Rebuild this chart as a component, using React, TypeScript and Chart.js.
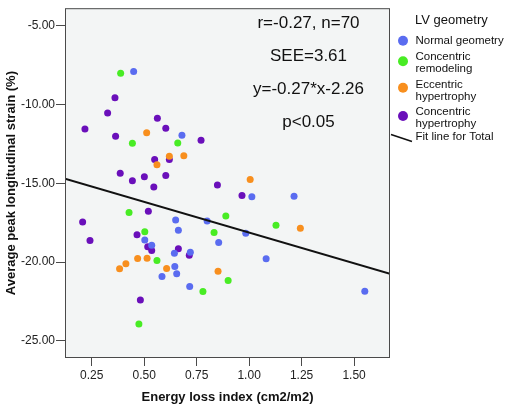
import { useEffect, useRef } from "react";
import { Chart, registerables } from "chart.js";

Chart.register(...registerables);

// ---- data ----
const xTicks = [0.25, 0.5, 0.75, 1.0, 1.25, 1.5];
const yTicks = [-25, -20, -15, -10, -5];
const xRange = [0.123, 1.671];
const yRange = [-26.08, -3.9];

const normalGeometry = [
  [0.45, -7.91], [0.68, -11.95], [1.013, -15.85], [1.214, -15.83], [0.65, -17.33],
  [0.8, -17.39], [0.984, -18.17], [0.855, -18.76], [0.663, -17.98], [0.503, -18.59],
  [0.536, -18.93], [0.644, -19.44], [0.72, -19.37], [0.646, -20.28], [0.655, -20.74],
  [0.585, -20.91], [0.717, -21.54], [1.081, -19.79], [1.551, -21.84],
];
const concentricRemodeling = [
  [0.388, -8.03], [0.444, -12.46], [0.66, -12.44], [0.428, -16.86], [0.889, -17.07],
  [0.833, -18.13], [0.503, -18.07], [0.561, -19.9], [0.9, -21.16], [0.78, -21.86],
  [0.475, -23.93], [1.128, -17.67],
];
const eccentricHypertrophy = [
  [0.512, -11.79], [0.62, -13.28], [0.689, -13.26], [0.561, -13.83], [1.005, -14.76],
  [1.244, -17.86], [0.469, -19.77], [0.514, -19.75], [0.413, -20.11], [0.383, -20.42],
  [0.607, -20.4], [0.852, -20.58],
];
const concentricHypertrophy = [
  [0.361, -9.58], [0.326, -10.54], [0.218, -11.56], [0.364, -12.02], [0.563, -10.88],
  [0.603, -11.51], [0.771, -12.27], [0.55, -13.5], [0.62, -13.5], [0.386, -14.36],
  [0.444, -14.84], [0.501, -14.59], [0.603, -14.51], [0.546, -15.24], [0.849, -15.11],
  [0.966, -15.77], [0.52, -16.78], [0.207, -17.45], [0.242, -18.63], [0.466, -18.27],
  [0.517, -19.03], [0.536, -19.27], [0.663, -19.16], [0.715, -19.56], [0.482, -22.41],
];
const fitLine = [[0.123, -14.71], [1.671, -20.74]];

const seriesLabels = [
  ["Normal geometry"],
  ["Concentric", "remodeling"],
  ["Eccentric", "hypertrophy"],
  ["Concentric", "hypertrophy"],
];
const seriesColors = ["#5a6cf0", "#48ec24", "#f88f1e", "#6a0fba"];
const legendTitle = "LV geometry";
const fitLabel = "Fit line for Total";
const statsText = ["r=-0.27, n=70", "SEE=3.61", "y=-0.27*x-2.26", "p<0.05"];
const xTitle = "Energy loss index (cm2/m2)";
const yTitle = "Average peak longitudinal strain (%)";

const FONT = "'Liberation Sans', Arial, Helvetica, sans-serif";

const toPts = (arr: number[][]) => arr.map(([x, y]) => ({ x, y }));

const decorPlugin = {
  id: "decor",
  beforeDraw(chart: any) {
    const { ctx, chartArea: a } = chart;
    ctx.save();
    ctx.fillStyle = "#ffffff";
    ctx.fillRect(0, 0, chart.width, chart.height);
    ctx.fillStyle = "#f3f5f5";
    ctx.fillRect(a.left, a.top, a.right - a.left, a.bottom - a.top);
    ctx.restore();
  },
  afterDraw(chart: any) {
    const { ctx, chartArea: a } = chart;
    ctx.save();
    // frame
    ctx.strokeStyle = "#4a4a4a";
    ctx.lineWidth = 1;
    ctx.strokeRect(a.left + 0.5, a.top + 0.5, a.right - a.left - 1, a.bottom - a.top - 1);

    // stats annotation
    ctx.fillStyle = "#111";
    ctx.font = `17px ${FONT}`;
    ctx.textAlign = "center";
    ctx.textBaseline = "alphabetic";
    const cx = 308.5;
    statsText.forEach((t, i) => {
      ctx.fillText(t, cx, 28 + i * 33);
    });

    // legend
    ctx.textAlign = "left";
    ctx.textBaseline = "middle";
    ctx.font = `13px ${FONT}`;
    ctx.fillText(legendTitle, 415, 20);
    ctx.font = `11.5px ${FONT}`;
    const circleY = [40.7, 61.2, 87.7, 116];
    const textY = [[40.7], [57.3, 68.6], [84.5, 96.5], [111.7, 124]];
    seriesLabels.forEach((lines, i) => {
      ctx.fillStyle = seriesColors[i];
      ctx.beginPath();
      ctx.arc(403, circleY[i], 5, 0, Math.PI * 2);
      ctx.fill();
      ctx.fillStyle = "#111";
      lines.forEach((l, j) => ctx.fillText(l, 415.5, textY[i][j]));
    });
    ctx.strokeStyle = "#111";
    ctx.lineWidth = 1.5;
    ctx.beginPath();
    ctx.moveTo(391, 134.5);
    ctx.lineTo(412, 141.5);
    ctx.stroke();
    ctx.fillText(fitLabel, 415.5, 137);
    ctx.restore();
  },
};

export default function App() {
  const ref = useRef<HTMLCanvasElement>(null);
  useEffect(() => {
    if (!ref.current) return;
    const scatterSets = [normalGeometry, concentricRemodeling, eccentricHypertrophy, concentricHypertrophy].map(
      (d, i) => ({
        type: "scatter" as const,
        label: seriesLabels[i].join(" "),
        data: toPts(d),
        backgroundColor: seriesColors[i],
        borderWidth: 0,
        pointRadius: 3.5,
        order: 1,
      })
    );
    const chart = new Chart(ref.current, {
      type: "scatter",
      data: {
        datasets: [
          ...scatterSets,
          {
            type: "scatter" as const,
            label: fitLabel,
            data: toPts(fitLine),
            showLine: true,
            borderColor: "#111",
            borderWidth: 2,
            pointRadius: 0,
            order: 0,
          } as any,
        ],
      },
      options: {
        animation: false,
        responsive: false,
        events: [],
        layout: { padding: { left: 0, top: 7, right: 125, bottom: 0 } },
        plugins: { legend: { display: false }, tooltip: { enabled: false } },
        scales: {
          x: {
            type: "linear",
            min: xRange[0],
            max: xRange[1],
            afterBuildTicks: (s: any) => {
              s.ticks = xTicks.map((v) => ({ value: v }));
            },
            afterFit: (s: any) => {
              s.height = 51;
            },
            ticks: {
              callback: (v: any) => Number(v).toFixed(2),
              font: { size: 12, family: FONT },
              color: "#222",
              padding: 2,
              maxRotation: 0,
            },
            grid: { drawOnChartArea: false, drawTicks: true, tickLength: 8, color: "#4a4a4a" },
            border: { display: false },
            title: {
              display: true,
              text: xTitle,
              font: { size: 13, weight: "bold", family: FONT },
              color: "#111",
              padding: { top: 0, bottom: 4 },
            },
          },
          y: {
            type: "linear",
            min: yRange[0],
            max: yRange[1],
            afterBuildTicks: (s: any) => {
              s.ticks = yTicks.map((v) => ({ value: v }));
            },
            afterFit: (s: any) => {
              s.width = 65;
            },
            ticks: {
              callback: (v: any) => Number(v).toFixed(2),
              font: { size: 12, family: FONT },
              color: "#222",
              padding: 1,
            },
            grid: { drawOnChartArea: false, drawTicks: true, tickLength: 9, color: "#4a4a4a" },
            border: { display: false },
            title: {
              display: true,
              text: yTitle,
              font: { size: 13, weight: "bold", family: FONT },
              color: "#111",
              padding: { top: 4, bottom: 0 },
            },
          },
        },
      } as any,
      plugins: [decorPlugin],
    });
    return () => chart.destroy();
  }, []);

  return (
    <div style={{ position: "fixed", left: 0, top: 0, width: 515, height: 409, background: "#fff" }}>
      <canvas ref={ref} width={515} height={409} style={{ display: "block", width: 515, height: 409 }} />
    </div>
  );
}
